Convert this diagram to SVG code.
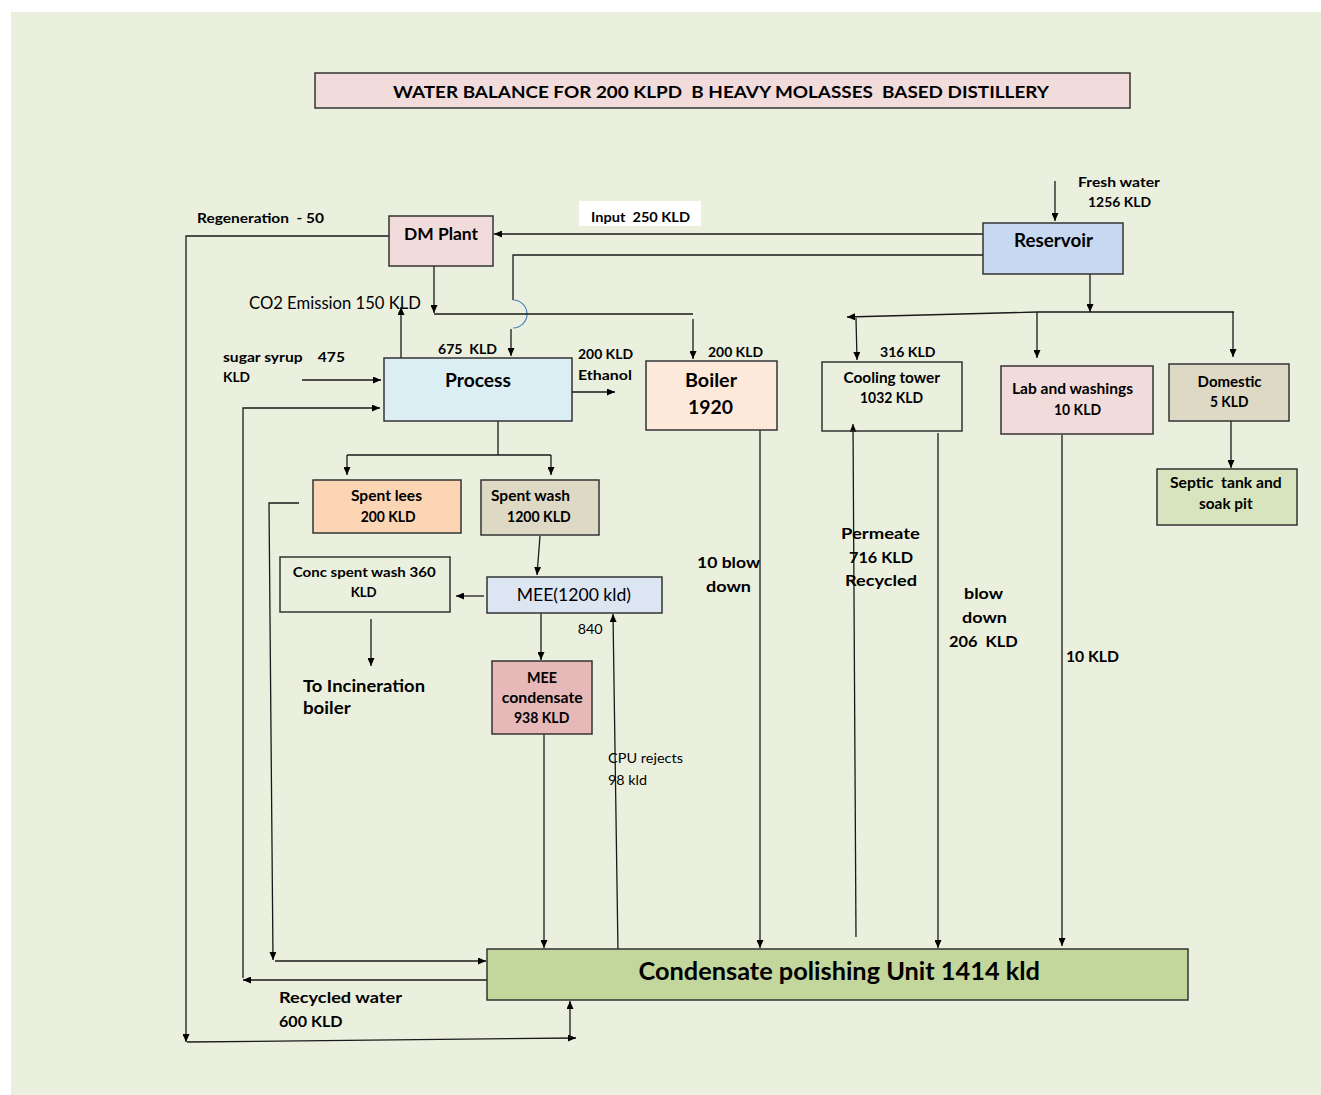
<svg xmlns="http://www.w3.org/2000/svg" width="1321" height="1095" viewBox="0 0 1321 1095">
<defs>
<marker id="ah" viewBox="0 0 8 7" refX="8" refY="3.5" markerWidth="8" markerHeight="7" markerUnits="userSpaceOnUse" orient="auto">
<path d="M0,0 L8,3.5 L0,7 z" fill="#000"/>
</marker>
<style>
text{font-family:Lato,"Open Sans","Liberation Sans",sans-serif;fill:#000;white-space:pre}
.b{font-weight:bold}
.box{stroke:#333;stroke-width:1.5}
.ln{fill:none;stroke:#1a1a1a;stroke-width:1.3}
.ar{marker-end:url(#ah)}
.s13{font-size:13.5px}
.s14{font-size:14.5px}
.s16{font-size:16px}
</style>
</defs>
<rect x="11" y="12" width="1310" height="1083" fill="#ebf0de"/>

<g id="title">
<rect x="315" y="73" width="815" height="35" fill="#f2dcdb" class="box"/>
<text x="393" y="97.5" class="b" font-size="17.5" textLength="656" lengthAdjust="spacingAndGlyphs">WATER BALANCE FOR 200 KLPD  B HEAVY MOLASSES  BASED DISTILLERY</text>
</g>

<g id="connectors">
<path class="ln ar" d="M1055,181 V221"/>
<path class="ln ar" d="M983,234 H494"/>
<path class="ln" d="M983,255 H513 V300"/>
<path d="M513,300 A14,14 0 0 1 513,328" fill="none" stroke="#4f81bd" stroke-width="1.2"/>
<path class="ln ar" d="M511,329 V356"/>
<path class="ln ar" d="M434,266 V313"/>
<path class="ln" d="M434,314 H693"/>
<path class="ln ar" d="M693,319 V359"/>
<path class="ln ar" d="M401,358 V307"/>
<path class="ln ar" d="M302,380 H381"/>
<path class="ln ar" d="M243,978 V408 H380"/>
<path class="ln ar" d="M490,980 H243"/>
<path class="ln ar" d="M389,236 H186 V1042"/>
<path class="ln ar" d="M187,1042 L576,1038"/>
<path class="ln ar" d="M570,1038 V1001"/>
<path class="ln" d="M498,421 V455 M347,455 H551"/>
<path class="ln ar" d="M347,455 V475"/>
<path class="ln ar" d="M551,455 V475"/>
<path class="ln ar" d="M299,503 H269 L273,960"/>
<path class="ln ar" d="M275,961 H486"/>
<path class="ln ar" d="M540,536 L537,575"/>
<path class="ln ar" d="M484,596 H456"/>
<path class="ln ar" d="M371,619 V666"/>
<path class="ln ar" d="M541,613 V660"/>
<path class="ln ar" d="M618,952 L613,614"/>
<path class="ln ar" d="M544,734 V948"/>
<path class="ln ar" d="M760,430 V948"/>
<path class="ln ar" d="M856,937 L853,424"/>
<path class="ln ar" d="M938,433 V948"/>
<path class="ln ar" d="M1062,435 V946"/>
<path class="ln ar" d="M1090,274 V312"/>
<path class="ln ar" d="M1234,312 H1037 L847,317"/>
<path class="ln ar" d="M856,318 L857,360"/>
<path class="ln ar" d="M1037,312 V358"/>
<path class="ln ar" d="M1233,312 V357"/>
<path class="ln ar" d="M1231,421 V468"/>
<path class="ln ar" d="M567,392 H615"/>
</g>

<g id="dm-plant">
<rect x="389" y="216" width="104" height="50" fill="#f2dcdb" class="box"/>
<text x="404" y="240" class="b" font-size="17" textLength="74" lengthAdjust="spacingAndGlyphs">DM Plant</text>
</g>
<g id="reservoir">
<rect x="983" y="223" width="140" height="51" fill="#c6d9f1" class="box"/>
<text x="1014" y="247" class="b" font-size="18" textLength="79" lengthAdjust="spacingAndGlyphs">Reservoir</text>
</g>
<g id="process">
<rect x="384" y="358" width="188" height="63" fill="#dbeef4" class="box"/>
<text x="445" y="387" class="b" font-size="19" textLength="66" lengthAdjust="spacingAndGlyphs">Process</text>
</g>
<g id="boiler">
<rect x="646" y="361" width="131" height="69" fill="#fde9d9" class="box"/>
<text x="685" y="387" class="b" font-size="19.5" textLength="52" lengthAdjust="spacingAndGlyphs">Boiler</text>
<text x="688" y="414" class="b" font-size="19.5" textLength="45" lengthAdjust="spacingAndGlyphs">1920</text>
</g>
<g id="cooling-tower">
<rect x="822" y="362" width="140" height="69" fill="none" class="box"/>
<text x="843.5" y="383" class="b s14" textLength="96.5" lengthAdjust="spacingAndGlyphs">Cooling tower</text>
<text x="860" y="403" class="b s14" textLength="63" lengthAdjust="spacingAndGlyphs">1032 KLD</text>
</g>
<g id="lab-washings">
<rect x="1001" y="366" width="152" height="68" fill="#f2dcdb" class="box"/>
<text x="1012" y="394" class="b s14" textLength="121" lengthAdjust="spacingAndGlyphs">Lab and washings</text>
<text x="1054" y="415" class="b s14" textLength="47" lengthAdjust="spacingAndGlyphs">10 KLD</text>
</g>
<g id="domestic">
<rect x="1169" y="364" width="120" height="57" fill="#ddd9c4" class="box"/>
<text x="1197.6" y="387" class="b s14" textLength="64" lengthAdjust="spacingAndGlyphs">Domestic</text>
<text x="1210" y="407" class="b s14" textLength="38.5" lengthAdjust="spacingAndGlyphs">5 KLD</text>
</g>
<g id="septic">
<rect x="1157" y="469" width="140" height="56" fill="#d7e4bd" class="box"/>
<text x="1170" y="488" class="b s14" textLength="111.7" lengthAdjust="spacingAndGlyphs">Septic  tank and</text>
<text x="1199" y="509" class="b s14" textLength="53.7" lengthAdjust="spacingAndGlyphs">soak pit</text>
</g>
<g id="spent-lees">
<rect x="313" y="480" width="148" height="53" fill="#fcd5b5" class="box"/>
<text x="351" y="501" class="b s14" textLength="71" lengthAdjust="spacingAndGlyphs">Spent lees</text>
<text x="360.7" y="522" class="b s14" textLength="55" lengthAdjust="spacingAndGlyphs">200 KLD</text>
</g>
<g id="spent-wash">
<rect x="481" y="480" width="118" height="55" fill="#ddd9c4" class="box"/>
<text x="491" y="501" class="b s14" textLength="79" lengthAdjust="spacingAndGlyphs">Spent wash</text>
<text x="507" y="522" class="b s14" textLength="63.7" lengthAdjust="spacingAndGlyphs">1200 KLD</text>
</g>
<g id="conc-spent-wash">
<rect x="280" y="557" width="170" height="55" fill="none" class="box"/>
<text x="292.7" y="577" class="b" font-size="14" textLength="143" lengthAdjust="spacingAndGlyphs">Conc spent wash 360</text>
<text x="350.7" y="597" class="b" font-size="14" textLength="26" lengthAdjust="spacingAndGlyphs">KLD</text>
</g>
<g id="mee">
<rect x="487" y="577" width="175" height="36" fill="#dce6f2" class="box"/>
<text x="516.7" y="601" font-size="16.5" textLength="114.3" lengthAdjust="spacingAndGlyphs">MEE(1200 kld)</text>
</g>
<g id="mee-condensate">
<rect x="492" y="661" width="100" height="73" fill="#e6b9b8" class="box"/>
<text x="527" y="683" class="b s14" textLength="30" lengthAdjust="spacingAndGlyphs">MEE</text>
<text x="501.7" y="703" class="b s14" textLength="81" lengthAdjust="spacingAndGlyphs">condensate</text>
<text x="514" y="723" class="b s14" textLength="55.3" lengthAdjust="spacingAndGlyphs">938 KLD</text>
</g>
<g id="cpu">
<rect x="487" y="949" width="701" height="51" fill="#c3d69b" class="box"/>
<text x="638.5" y="980" class="b" font-size="24" textLength="401.5" lengthAdjust="spacingAndGlyphs">Condensate polishing Unit 1414 kld</text>
</g>

<g id="labels">
<text x="197" y="223" class="b s13" textLength="127" lengthAdjust="spacingAndGlyphs">Regeneration  - 50</text>
<rect x="579" y="201" width="122" height="25" fill="#ffffff"/>
<text x="591" y="222" class="b s13" textLength="99" lengthAdjust="spacingAndGlyphs">Input  250 KLD</text>
<text x="1078" y="187" class="b s13" textLength="82" lengthAdjust="spacingAndGlyphs">Fresh water</text>
<text x="1088" y="207" class="b s13" textLength="63" lengthAdjust="spacingAndGlyphs">1256 KLD</text>
<text x="249" y="309" font-size="16.5" textLength="172" lengthAdjust="spacingAndGlyphs">CO2 Emission 150 KLD</text>
<text x="223" y="362" class="b s13" textLength="122" lengthAdjust="spacingAndGlyphs">sugar syrup    475</text>
<text x="223" y="382" class="b s13" textLength="27" lengthAdjust="spacingAndGlyphs">KLD</text>
<text x="438" y="354" class="b s13" textLength="59" lengthAdjust="spacingAndGlyphs">675  KLD</text>
<text x="578" y="359" class="b s13" textLength="55" lengthAdjust="spacingAndGlyphs">200 KLD</text>
<text x="578" y="380" class="b s13" textLength="54" lengthAdjust="spacingAndGlyphs">Ethanol</text>
<text x="708" y="357" class="b s13" textLength="55" lengthAdjust="spacingAndGlyphs">200 KLD</text>
<text x="880" y="357" class="b s13" textLength="55.5" lengthAdjust="spacingAndGlyphs">316 KLD</text>
<text x="697" y="568" class="b s16" textLength="63" lengthAdjust="spacingAndGlyphs">10 blow</text>
<text x="706" y="592" class="b s16" textLength="45" lengthAdjust="spacingAndGlyphs">down</text>
<text x="841" y="539" class="b s16" textLength="79" lengthAdjust="spacingAndGlyphs">Permeate</text>
<text x="849" y="563" class="b s16" textLength="64" lengthAdjust="spacingAndGlyphs">716 KLD</text>
<text x="845" y="586" class="b s16" textLength="72" lengthAdjust="spacingAndGlyphs">Recycled</text>
<text x="964" y="599" class="b s16" textLength="39" lengthAdjust="spacingAndGlyphs">blow</text>
<text x="962" y="623" class="b s16" textLength="45" lengthAdjust="spacingAndGlyphs">down</text>
<text x="949" y="647" class="b s16" textLength="68.7" lengthAdjust="spacingAndGlyphs">206  KLD</text>
<text x="1066" y="662" class="b s16" textLength="53" lengthAdjust="spacingAndGlyphs">10 KLD</text>
<text x="577.7" y="634" class="s13" textLength="25" lengthAdjust="spacingAndGlyphs">840</text>
<text x="608" y="763" class="s13" textLength="75" lengthAdjust="spacingAndGlyphs">CPU rejects</text>
<text x="608" y="785" class="s13" textLength="39" lengthAdjust="spacingAndGlyphs">98 kld</text>
<text x="303" y="692" class="b" font-size="17.5" textLength="122" lengthAdjust="spacingAndGlyphs">To Incineration</text>
<text x="303" y="714" class="b" font-size="17.5" textLength="47.7" lengthAdjust="spacingAndGlyphs">boiler</text>
<text x="279" y="1003" class="b s16" textLength="123" lengthAdjust="spacingAndGlyphs">Recycled water</text>
<text x="279" y="1027" class="b s16" textLength="63.5" lengthAdjust="spacingAndGlyphs">600 KLD</text>
</g>
</svg>
